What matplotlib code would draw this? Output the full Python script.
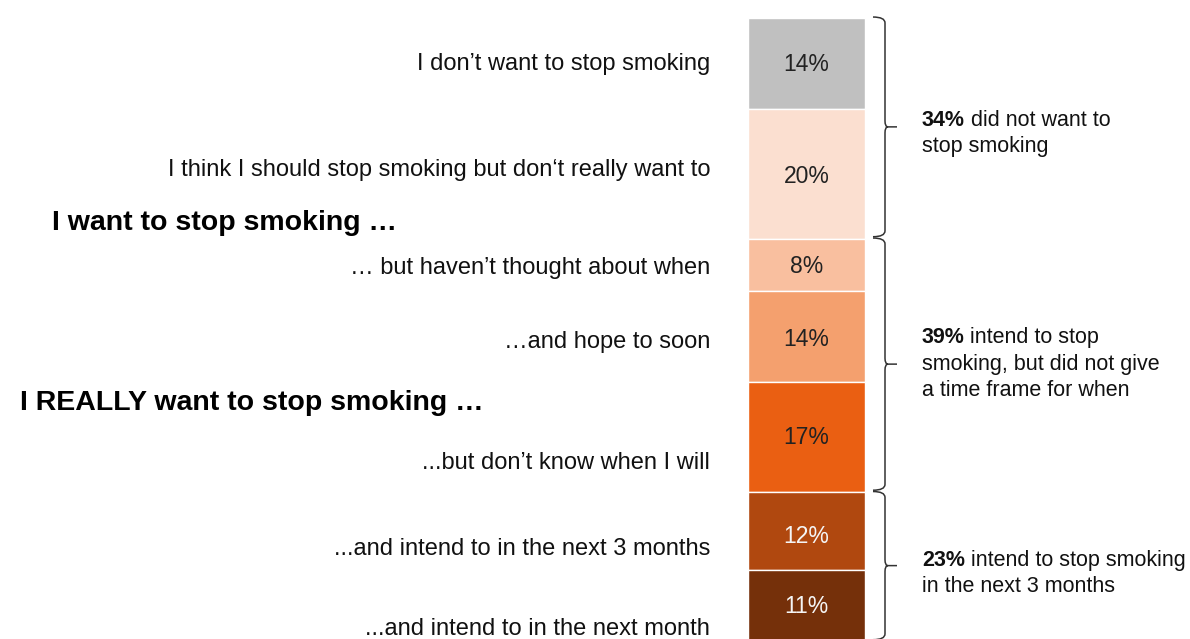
import matplotlib
matplotlib.use("Agg")
import matplotlib.pyplot as plt
from matplotlib.path import Path
from matplotlib.patches import PathPatch
import numpy as np

plt.rcParams["font.family"] = ["Liberation Sans", "DejaVu Sans"]

# Anteile der Antworten (von oben nach unten gestapelt)
answers = [
    "I don’t want to stop smoking",
    "I think I should stop smoking but don‘t really want to",
    "… but haven’t thought about when",
    "…and hope to soon",
    "...but don’t know when I will",
    "...and intend to in the next 3 months",
    "...and intend to in the next month",
]
shares = [14, 20, 8, 14, 17, 12, 11]
colors = ["#c0c0c0", "#fbdfd0", "#f9bf9f", "#f4a06e", "#ea5f12", "#b0480f", "#75300a"]
value_colors = ["#222222"] * 5 + ["#f5f5f5"] * 2

# Gruppen für die geschweiften Klammern: (erster, letzter Index)
groups = [(0, 1), (2, 4), (5, 6)]
group_bold = ["34%", "39%", "23%"]
group_text = [
    ["did not want to", "stop smoking"],
    ["intend to stop", "smoking, but did not give", "a time frame for when"],
    ["intend to stop smoking", "in the next 3 months"],
]

headings = ["I want to stop smoking …", "I REALLY want to stop smoking …"]

fig = plt.figure(figsize=(11.9, 6.39), dpi=100)
ax = fig.add_axes([0, 0, 1, 1])
ax.set_xlim(0, 1190)
ax.set_ylim(95.54, -2.77)
ax.axis("off")

bottoms = np.concatenate([[0], np.cumsum(shares)[:-1]])
ax.bar(806.5, shares, bottom=bottoms, width=117, color=colors,
       edgecolor="white", linewidth=1.0)

value_offsets = [0.2, 0.4, 0.2, 0.5, 0.0, 0.7, 0.0]
for b, s, c, off in zip(bottoms, shares, value_colors, value_offsets):
    ax.text(806.5, b + s / 2 + off, f"{s}%", ha="center", va="center",
            fontsize=16.5, color=c)

# Antworttexte links, rechtsbündig
label_y = [7.1, 23.4, 38.4, 49.9, 68.5, 81.7, 94.0]
for txt, y in zip(answers, label_y):
    ax.text(710, y, txt, ha="right", va="center", fontsize=17, color="#111111")

ax.text(52, 31.5, headings[0], ha="left", va="center", fontsize=20.5,
        fontweight="bold", color="black")
ax.text(20, 59.2, headings[1], ha="left", va="center", fontsize=20.5,
        fontweight="bold", color="black")


def brace(ax, x0, y_top, y_bot, w=24, r=0.9):
    xs = x0 + w / 2
    xt = x0 + w
    ym = (y_top + y_bot) / 2
    verts = [
        (x0, y_top), (xs, y_top), (xs, y_top + r),
        (xs, ym - r), (xs, ym), (xs + 3, ym),
        (xt, ym),
        (xs + 3, ym), (xs, ym), (xs, ym + r),
        (xs, y_bot - r), (xs, y_bot), (x0, y_bot),
    ]
    codes = [
        Path.MOVETO, Path.CURVE3, Path.CURVE3,
        Path.LINETO, Path.CURVE3, Path.CURVE3,
        Path.LINETO,
        Path.MOVETO, Path.CURVE3, Path.CURVE3,
        Path.LINETO, Path.CURVE3, Path.CURVE3,
    ]
    ax.add_patch(PathPatch(Path(verts, codes), fill=False,
                           edgecolor="#333333", linewidth=1.1))
    return ym


cum = np.cumsum(shares)
line_h = 4.1
text_shift = [1.0, 0.0, 1.2]
for (i0, i1), bold, lines, sh in zip(groups, group_bold, group_text, text_shift):
    top = bottoms[i0] - 0.15
    bot = cum[i1] - 0.35
    ym = brace(ax, 873, top, bot)
    n = len(lines)
    y0 = ym - (n - 1) / 2 * line_h + sh
    t = ax.text(922, y0, bold, ha="left", va="center", fontsize=15.5,
                fontweight="bold", color="#111111")
    ax.annotate(lines[0], xy=(1, 0), xycoords=t, xytext=(4, 0),
                textcoords="offset points", ha="left", va="bottom",
                fontsize=15.5, color="#111111")
    for k, ln in enumerate(lines[1:], start=1):
        ax.text(922, y0 + k * line_h, ln, ha="left", va="center",
                fontsize=15.5, color="#111111")

fig.savefig("out.png", dpi=100, facecolor="white")
